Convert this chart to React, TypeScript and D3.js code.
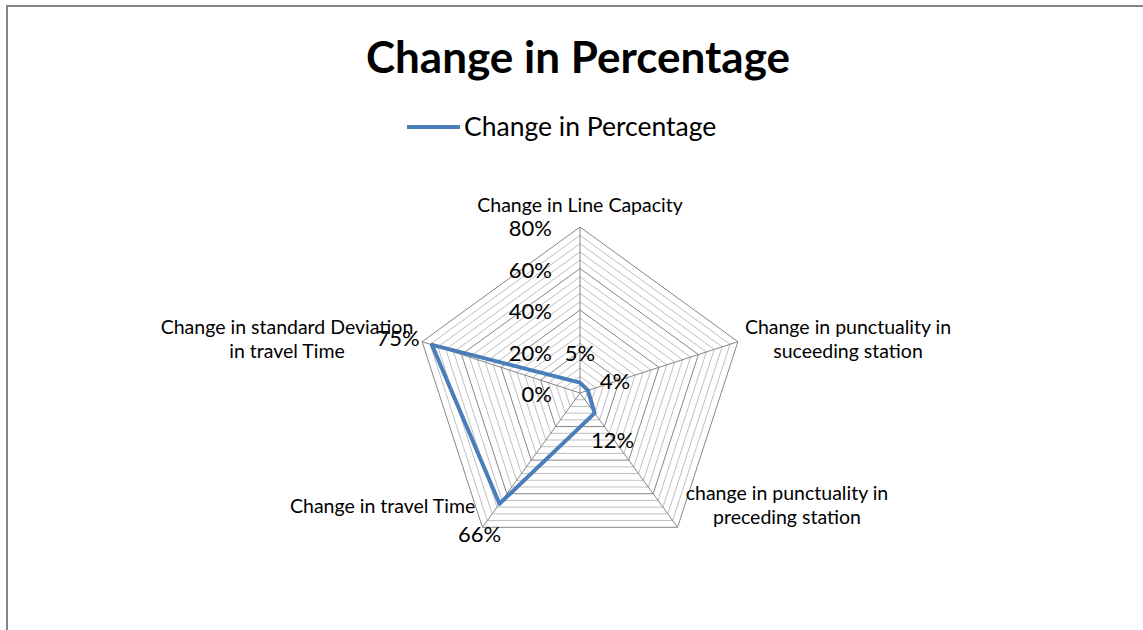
import React, { useRef, useEffect } from 'react';
import { select, scaleLinear, range, lineRadial, curveLinearClosed } from 'd3';

const categories = [
  ['Change in Line Capacity'],
  ['Change in punctuality in', 'suceeding station'],
  ['change in punctuality in', 'preceding station'],
  ['Change in travel Time'],
  ['Change in standard Deviation', 'in travel Time'],
];
const values = [0.05, 0.04, 0.12, 0.66, 0.75];
const valueLabels = ['5%', '4%', '12%', '66%', '75%'];
const tickValues = [0, 0.2, 0.4, 0.6, 0.8];
const tickLabels = ['0%', '20%', '40%', '60%', '80%'];
const seriesName = 'Change in Percentage';

function App() {
  const svgRef = useRef<SVGSVGElement>(null);

  useEffect(() => {
    const width = 1143;
    const height = 630;
    const cx = 580;
    const cy = 393;
    const font = 'Lato, "Open Sans", sans-serif';

    const svg = select(svgRef.current).attr('width', width).attr('height', height);
    svg.selectAll('*').remove();

    // chart border
    svg
      .append('rect')
      .attr('x', 7)
      .attr('y', 6)
      .attr('width', width + 20)
      .attr('height', height + 20)
      .attr('fill', 'white')
      .attr('stroke', '#868686')
      .attr('stroke-width', 2);

    // title
    svg
      .append('text')
      .attr('x', 578)
      .attr('y', 73)
      .attr('text-anchor', 'middle')
      .attr('font-family', font)
      .attr('font-weight', 'bold')
      .attr('font-size', 44)
      .attr('fill', '#000')
      .text(seriesName);

    // legend
    svg
      .append('line')
      .attr('x1', 407)
      .attr('x2', 460)
      .attr('y1', 127)
      .attr('y2', 127)
      .attr('stroke', '#4a7ebb')
      .attr('stroke-width', 4);
    svg
      .append('text')
      .attr('x', 464)
      .attr('y', 136)
      .attr('font-family', font)
      .attr('font-size', 26.5)
      .attr('fill', '#000')
      .text(seriesName);

    const n = categories.length;
    const rScale = scaleLinear().domain([0, 0.8]).range([0, 166]);
    const angle = (i: number) => (i * 2 * Math.PI) / n;
    const px = (i: number, v: number) => cx + rScale(v) * Math.sin(angle(i));
    const py = (i: number, v: number) => cy - rScale(v) * Math.cos(angle(i));

    const g = svg.append('g').attr('transform', `translate(${cx},${cy})`);
    const radial = lineRadial<number>()
      .angle((d, i) => angle(i))
      .radius((d) => rScale(d))
      .curve(curveLinearClosed);

    // minor + major gridlines (every 4%)
    const levels = range(1, 21).map((k) => k * 0.04);
    g.selectAll('.minor')
      .data(levels.filter((d, k) => (k + 1) % 5 !== 0))
      .join('path')
      .attr('class', 'minor')
      .attr('d', (lv) => radial(range(n).map(() => lv)))
      .attr('fill', 'none')
      .attr('stroke', '#bfbfbf')
      .attr('stroke-width', 1);
    g.selectAll('.major')
      .data(levels.filter((d, k) => (k + 1) % 5 === 0))
      .join('path')
      .attr('class', 'major')
      .attr('d', (lv) => radial(range(n).map(() => lv)))
      .attr('fill', 'none')
      .attr('stroke', '#868686')
      .attr('stroke-width', 1);

    // spokes
    g.selectAll('.spoke')
      .data(range(n))
      .join('line')
      .attr('class', 'spoke')
      .attr('x1', 0)
      .attr('y1', 0)
      .attr('x2', (i) => rScale(0.8) * Math.sin(angle(i)))
      .attr('y2', (i) => -rScale(0.8) * Math.cos(angle(i)))
      .attr('stroke', '#868686')
      .attr('stroke-width', 1);

    // tick labels
    svg
      .selectAll('.tick')
      .data(tickValues)
      .join('text')
      .attr('class', 'tick')
      .attr('x', cx - 28)
      .attr('y', (d) => cy - rScale(d) + 9)
      .attr('text-anchor', 'end')
      .attr('font-family', font)
      .attr('font-size', 22)
      .attr('fill', '#000')
      .text((d, i) => tickLabels[i]);

    // category labels
    const catPos = [
      { x: 580, y: 212, anchor: 'middle' },
      { x: 848, y: 334, anchor: 'middle' },
      { x: 787, y: 500, anchor: 'middle' },
      { x: 290, y: 513, anchor: 'start' },
      { x: 287, y: 334, anchor: 'middle' },
    ];
    categories.forEach((lines, i) => {
      const t = svg
        .append('text')
        .attr('x', catPos[i].x)
        .attr('y', catPos[i].y)
        .attr('text-anchor', catPos[i].anchor)
        .attr('font-family', font)
        .attr('font-size', 19.5)
        .attr('fill', '#000');
      lines.forEach((ln, j) =>
        t
          .append('tspan')
          .attr('x', catPos[i].x)
          .attr('dy', j === 0 ? 0 : 24)
          .text(ln)
      );
    });

    // series line
    g.append('path')
      .attr('d', radial(values))
      .attr('fill', 'none')
      .attr('stroke', '#4a7ebb')
      .attr('stroke-width', 4)
      .attr('stroke-linejoin', 'round');

    // data labels
    const labelOffset = [
      [0, -30],
      [27, -9],
      [18, 27],
      [-20, 30],
      [-34, -7],
    ];
    svg
      .selectAll('.dlabel')
      .data(values)
      .join('text')
      .attr('class', 'dlabel')
      .attr('x', (d, i) => px(i, d) + labelOffset[i][0])
      .attr('y', (d, i) => py(i, d) + labelOffset[i][1] + 8)
      .attr('text-anchor', 'middle')
      .attr('font-family', font)
      .attr('font-size', 22)
      .attr('fill', '#000')
      .text((d, i) => valueLabels[i]);
  }, []);

  return (
    <svg
      ref={svgRef}
      style={{ position: 'absolute', left: 0, top: 0, background: 'white' }}
    />
  );
}

export default App;
